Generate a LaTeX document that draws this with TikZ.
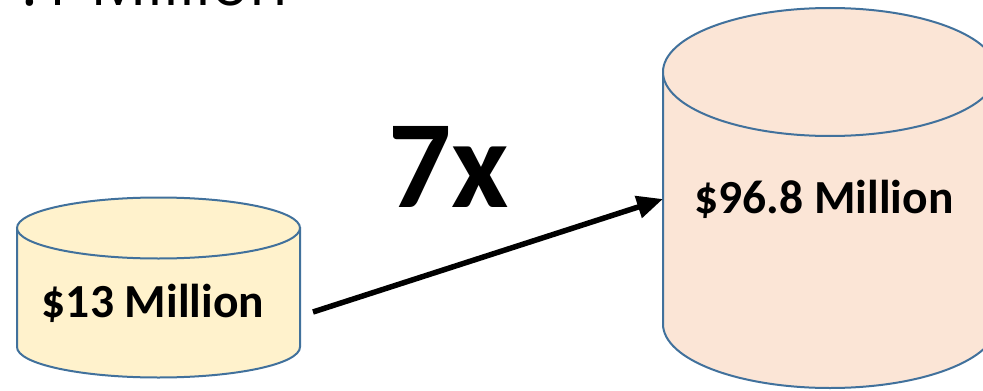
\documentclass[tikz,border=0pt]{standalone}
\usepackage{fontspec}
\setmainfont{Carlito}
\newfontfamily\topfont{Open Sans}
\usetikzlibrary{arrows.meta}
\definecolor{edgeblue}{HTML}{41719C}
\definecolor{lightyellow}{HTML}{FFF2CC}
\definecolor{lightpeach}{HTML}{FBE5D6}
\tikzset{
  cylbody/.style={draw=edgeblue, line width=2bp},
  cyllabel/.style={inner sep=0pt, anchor=base, font=\bfseries\fontsize{47.5bp}{52bp}\selectfont},
  growarrow/.style={line width=5.5bp, -{Triangle[length=26bp,width=22bp]}},
}
\begin{document}
\begin{tikzpicture}[x=1bp,y=1bp]
\useasboundingbox (0,0) rectangle (983,390);
\clip (0,0) rectangle (983,390);
% clipped title text at the top
\node[inner sep=0pt, anchor=base east, font=\topfont\fontsize{63bp}{70bp}\selectfont] (title) at (288,385) {.1 Million};
% left cylinder
\path[cylbody, fill=lightyellow] (17,162) -- (17,43) arc[start angle=180, end angle=360, x radius=141.5, y radius=30.5] -- (300,162) -- cycle;
\draw[cylbody, fill=lightyellow] (158.5,162) ellipse[x radius=141.5, y radius=30.5];
% right cylinder
\path[cylbody, fill=lightpeach] (663,318) -- (663,66) arc[start angle=180, end angle=360, x radius=167, y radius=64] -- (997,318) -- cycle;
\draw[cylbody, fill=lightpeach] (830,318) ellipse[x radius=167, y radius=64];
% labels
\node[cyllabel] (small) at (153,73) {\$13 Million};
\node[cyllabel] (big) at (824,177) {\$96.8 Million};
\node[inner sep=0pt, anchor=base, font=\bfseries\fontsize{125bp}{130bp}\selectfont] (factor) at (449,183) {7x};
% arrow
\coordinate (from) at (313,78);
\coordinate (to) at (663,191);
\draw[growarrow] (from) -- (to);
\end{tikzpicture}
\end{document}
